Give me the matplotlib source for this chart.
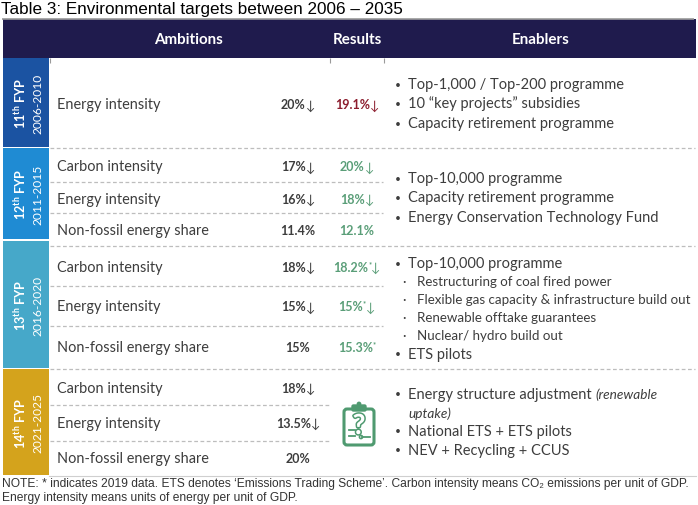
import matplotlib
matplotlib.use("Agg")
import matplotlib.pyplot as plt
from matplotlib import font_manager as fm
from matplotlib.ft2font import FT2Font
from matplotlib.patches import Rectangle, FancyBboxPatch, Circle
import matplotlib.patheffects as pe

# ---------------- data ----------------
title = "Table 3: Environmental targets between 2006 \u2013 2035"
headers = ["Ambitions", "Results", "Enablers"]
plan_names = ["11$^{\\mathregular{th}}$ FYP", "12$^{\\mathregular{th}}$ FYP",
              "13$^{\\mathregular{th}}$ FYP", "14$^{\\mathregular{th}}$ FYP"]
plan_years = ["2006-2010", "2011-2015", "2016-2020", "2021-2025"]
metrics = [
    ["Energy intensity"],
    ["Carbon intensity", "Energy intensity", "Non-fossil energy share"],
    ["Carbon intensity", "Energy intensity", "Non-fossil energy share"],
    ["Carbon intensity", "Energy intensity", "Non-fossil energy share"],
]
ambitions = [
    ["20%\u2193"],
    ["17%\u2193", "16%\u2193", "11.4%"],
    ["18%\u2193", "15%\u2193", "15%"],
    ["18%\u2193", "13.5%\u2193", "20%"],
]
results = [
    ["19.1%\u2193"],
    ["20%\u2193", "18%\u2193", "12.1%"],
    ["18.2%*\u2193", "15%*\u2193", "15.3%*"],
    [None, None, None],
]
# (level, text, italic tail)  level 0 = bullet, 1 = sub-bullet, 2 = continuation
enablers = [
    [(0, "Top-1,000 / Top-200 programme", ""),
     (0, "10 \u201ckey projects\u201d subsidies", ""),
     (0, "Capacity retirement programme", "")],
    [(0, "Top-10,000 programme", ""),
     (0, "Capacity retirement programme", ""),
     (0, "Energy Conservation Technology Fund", "")],
    [(0, "Top-10,000 programme", ""),
     (1, "Restructuring of coal fired power", ""),
     (1, "Flexible gas capacity & infrastructure build out", ""),
     (1, "Renewable offtake guarantees", ""),
     (1, "Nuclear/ hydro build out", ""),
     (0, "ETS pilots", "")],
    [(0, "Energy structure adjustment", "(renewable"),
     (2, "", "uptake)"),
     (0, "National ETS + ETS pilots", ""),
     (0, "NEV + Recycling + CCUS", "")],
]
note_lines = [
    "NOTE: * indicates 2019 data. ETS denotes \u2018Emissions Trading Scheme\u2019. "
    "Carbon intensity means CO\u2082 emissions per unit of GDP.",
    "Energy intensity means units of energy per unit of GDP.",
]

# ---------------- style / layout ----------------
plan_colors = ["#1b53a2", "#1f8bd3", "#46a8c9", "#d4a31c"]
result_colors = ["#8c1d2e", "#5a9e78", "#5a9e78", "#5a9e78"]
navy = "#1f1b4d"
txt = "#3d3d3d"
green = "#4f9a70"
dash_c = "#bdbdbd"

band_top = [59, 149, 242, 370]
band_bot = [148, 240, 369, 476]
row_y = [[105], [167, 200, 231], [268, 307, 348], [389, 424, 459]]
inner_dash = [[], [183, 214], [287, 327], [406, 442]]
inner_dash_end = [383, 383, 383, 330]
sep_y = [148.5, 247, 370]
en_y = [[85, 104, 124], [179, 198, 218], [264, 282, 300, 318, 336, 355],
        [395, 414, 432, 451]]

W, H = 698, 506
fig = plt.figure(figsize=(W / 100, H / 100), dpi=100)
ax = fig.add_axes([0, 0, 1, 1])
ax.set_xlim(0, W)
ax.set_ylim(H, 0)
ax.axis("off")
R = fig.canvas.get_renderer()


def has_glyph(family, ch):
    try:
        path = fm.findfont(fm.FontProperties(family=family), fallback_to_default=False)
        return ord(ch) in FT2Font(path).get_charmap()
    except Exception:
        return False


LAB = "Lato" if has_glyph("Lato", "a") else "DejaVu Sans"
ARROW = next(f for f in ["Lato", "Liberation Sans", "DejaVu Sans"] if has_glyph(f, "\u2193"))
ARIAL = "Liberation Sans"


def width_of(t):
    return t.get_window_extent(renderer=R).width


def fit(s, target, **kw):
    t = ax.text(0, 0, s, fontsize=10, **kw)
    w = width_of(t)
    t.remove()
    return 10 * target / w


fs_title = fit(title, 402, family=ARIAL)
fs_note = fit(note_lines[0], 688, family=[ARIAL, "DejaVu Sans"])
fs_lab = fit("Energy intensity", 103, family=LAB)
fs_en = fit("Energy Conservation Technology Fund", 250, family=LAB)
fs_sub = fit("Flexible gas capacity & infrastructure build out", 272, family=LAB)
fs_val = fit("19.1%", 35, family=LAB, weight="bold")
fs_head = fit("Ambitions", 69, family=LAB, weight="bold")
fs_year = fit("2006-2010", 60, family=LAB)


def draw_runs(x, y, parts, ha="left"):
    texts = []
    for s, kw, dy in parts:
        t = ax.text(0, y + dy, s, ha="left", va="center", **kw)
        texts.append(t)
    ws = [width_of(t) for t in texts]
    total = sum(ws)
    x0 = x - total / 2 if ha == "center" else x
    for t, w in zip(texts, ws):
        t.set_x(x0)
        x0 += w
    return texts


def value_parts(s, color, size):
    parts, buf = [], ""
    for ch in s:
        if ch in "*\u2193":
            if buf:
                parts.append((buf, dict(family=LAB, weight="bold", fontsize=size, color=color), 0))
                buf = ""
            if ch == "*":
                parts.append(("*", dict(family=LAB, weight="bold", fontsize=size * 0.6, color=color),
                              -size * 1.389 * 0.28))
            else:
                parts.append(("\u2193", dict(family=ARROW, weight="normal", fontsize=size, color=color), 0.5))
        else:
            buf += ch
    if buf:
        parts.append((buf, dict(family=LAB, weight="bold", fontsize=size, color=color), 0))
    return parts


# title and rule
ax.text(1, 9.5, title, family=ARIAL, fontsize=fs_title, color="black", ha="left", va="center")
ax.plot([2, 694], [19.5, 19.5], color="#9a9a9a", lw=1.2, solid_capstyle="butt")

# header
ax.add_patch(Rectangle((3, 20), 693, 39, facecolor=navy, edgecolor="none"))
for h, xc in zip(headers, [188, 357, 541]):
    ax.text(xc, 40, h, family=LAB, weight="bold", fontsize=fs_head, color="white",
            ha="center", va="center")
ax.vlines([49.5, 330, 384], 59, 64, color="#9a9a9a", lw=0.8)

# bands
for i in range(4):
    ax.add_patch(Rectangle((3, band_top[i]), 46, band_bot[i] - band_top[i],
                           facecolor=plan_colors[i], edgecolor="none"))
    yc = (band_top[i] + band_bot[i]) / 2
    ax.text(20, yc, plan_names[i], family=LAB, weight="bold", fontsize=fs_year * 1.05,
            color="white", rotation=90, ha="center", va="center")
    ax.text(37.5, yc, plan_years[i], family=LAB, weight="normal", fontsize=fs_year,
            color="white", rotation=90, ha="center", va="center")

# separators
for y in sep_y:
    ax.plot([50, 695], [y, y], color=dash_c, lw=0.9, linestyle=(0, (3, 2)))
for i in range(4):
    for y in inner_dash[i]:
        ax.plot([50, inner_dash_end[i]], [y, y], color=dash_c, lw=0.9, linestyle=(0, (3, 2)))
ax.plot([49, 696], [477, 477], color="#cfcfcf", lw=0.8)

# rows
for i in range(4):
    for j, y in enumerate(row_y[i]):
        ax.text(57, y, metrics[i][j], family=LAB, fontsize=fs_lab, color=txt,
                ha="left", va="center")
        draw_runs(298, y, value_parts(ambitions[i][j], txt, fs_val), ha="center")
        if results[i][j] is not None:
            draw_runs(357, y, value_parts(results[i][j], result_colors[i], fs_val), ha="center")

# enablers
for i in range(4):
    for (lvl, s, ital), y in zip(enablers[i], en_y[i]):
        if lvl == 0:
            ax.text(398, y, "\u2022", family=LAB, fontsize=fs_en * 0.7, color=txt,
                    ha="center", va="center")
            t = ax.text(408, y, s, family=LAB, fontsize=fs_en, color=txt, ha="left", va="center")
            if ital:
                xe = 408 + width_of(t) + fs_en * 1.389 * 0.25
                ax.text(xe, y, ital, family=LAB, style="italic", fontsize=fs_en * 0.93,
                        color=txt, ha="left", va="center")
        elif lvl == 1:
            ax.text(404, y, "\u00b7", family=LAB, fontsize=fs_sub, color=txt, ha="center", va="center")
            ax.text(417, y, s, family=LAB, fontsize=fs_sub, color=txt, ha="left", va="center")
        else:
            ax.text(408, y, ital, family=LAB, style="italic", fontsize=fs_en * 0.93,
                    color=txt, ha="left", va="center")

# clipboard icon (14th FYP results not yet known)
ax.add_patch(FancyBboxPatch((344, 410), 30, 36, boxstyle="round,pad=0,rounding_size=3",
                            fill=False, edgecolor=green, lw=2.2))
ax.add_patch(FancyBboxPatch((352, 406), 14, 6, boxstyle="round,pad=0,rounding_size=1.5",
                            facecolor=green, edgecolor=green, lw=1))
ax.add_patch(Circle((359, 405), 2.4, facecolor=green, edgecolor="none"))
ax.text(359, 427, "?", family=LAB, weight="bold", fontsize=20, color="white", ha="center",
        va="center", path_effects=[pe.withStroke(linewidth=2.2, foreground=green)])
ax.plot([348.5, 355], [431, 431], color=green, lw=1.3)
ax.plot([348.5, 355], [437, 437], color=green, lw=1.3)
ax.plot([362, 369.5], [438, 438], color=green, lw=1.3)
ax.add_patch(Circle((361, 438), 1.6, fill=False, edgecolor=green, lw=1.1))

# note
for k, line in enumerate(note_lines):
    ax.text(2, 484 + k * 14, line, family=[ARIAL, "DejaVu Sans"], fontsize=fs_note,
            color="#333333", ha="left", va="center")

fig.savefig("out.png", dpi=100, facecolor="white")
